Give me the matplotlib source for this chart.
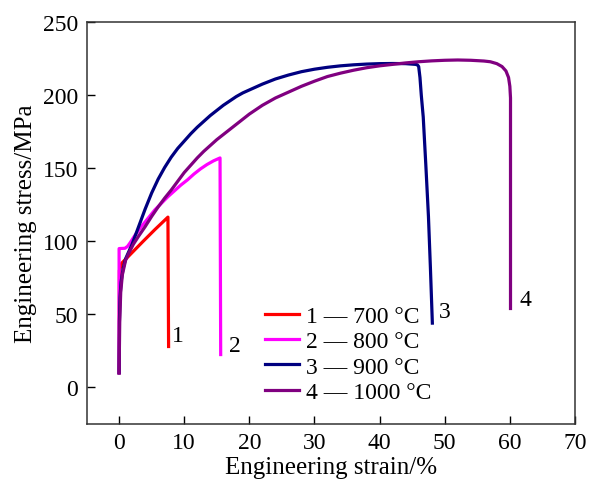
import matplotlib
matplotlib.use("Agg")
import matplotlib.pyplot as plt

plt.rcParams['font.family'] = ['Liberation Serif', 'DejaVu Serif']

# ---- data ----
x1 = [0.0, 0.05, 0.4, 1.5, 3.7, 5.5, 7.5, 7.6]
y1 = [10, 80, 85, 90, 100, 108, 116.5, 28]

x2 = [0.0, 0.0, 0.9, 1.3, 1.7, 2.5, 3.5, 4.5, 5.5, 6.5, 7.5, 8.5, 9.5, 10.5, 11.5, 12.5,
      13.5, 14.5, 15.5, 15.6]
y2 = [10, 95, 95.2, 96.5, 99, 104.5, 110.5, 116, 121.5, 126, 130.5, 134.5, 138.5, 142, 146, 149.5,
      152.5, 155, 157, 22.5]

x3 = [0.0, 0.05, 0.15, 0.3, 0.6, 1.0, 2.0, 3.0, 4.0, 5.0, 6.0, 7.0, 8.0, 9.0, 10, 11, 12, 13,
      14, 15, 16, 17, 18, 19, 20, 22, 24, 26, 28, 30, 32, 34, 36, 38, 40, 42, 44, 45.5, 45.8,
      46.0, 46.2, 46.4, 46.7, 47.1, 47.5, 47.8, 48.1]
y3 = [10, 45, 62, 72, 81, 88, 98, 110, 122, 133, 142.5, 150.5, 157.5, 163.5, 168.5, 173.5, 178, 182,
      186, 189.5, 193, 196, 199, 201.5, 203.5, 207.5, 211, 213.7, 216, 217.7, 219, 220, 220.7,
      221.2, 221.5, 221.6, 221.5, 221.0, 220.7, 219.5, 212, 200, 185, 152, 117, 82, 44]

x4 = [0.0, 0.1, 0.25, 0.5, 1.0, 1.5, 2.2, 3.0, 4.0, 5.0, 6.0, 7.0, 8.0, 9.0, 10, 11, 12, 13,
      14, 15, 16, 17, 18, 19, 20, 22, 24, 26, 28, 30, 32, 34, 36, 38, 40, 42, 44, 46, 48, 50,
      52, 54, 56, 57, 58, 58.8, 59.4, 59.8, 60.0, 60.1, 60.1, 60.1]
y4 = [10, 45, 65, 77, 87, 92, 98, 103.5, 110, 117, 123.5, 129.5, 135, 141, 147, 152, 157, 161.5,
      165.5, 169.5, 173, 176.5, 180, 183.5, 187, 193, 198, 202, 206, 209.5, 212.7, 215, 217, 218.7,
      220, 221, 222, 222.8, 223.4, 223.8, 224, 223.8, 223.3, 222.8, 221.5, 219.5, 216.5, 212, 206,
      198, 150, 54]

series_labels = ['1 — 700 °C', '2 — 800 °C', '3 — 900 °C', '4 — 1000 °C']
series_colors = ['#ff0000', '#ff00ff', '#000080', '#800080']
end_tags = ['1', '2', '3', '4']
tag_x = [9.1, 17.8, 50.0, 62.4]
tag_y = [35.7, 28.8, 52.0, 60.0]

xticks = [0, 10, 20, 30, 40, 50, 60, 70]
yticks = [0, 50, 100, 150, 200, 250]

fig = plt.figure(figsize=(5.91, 4.89), dpi=100)
ax = fig.add_axes([0.1464, 0.1309, 0.9729 - 0.1464, 0.953 - 0.1309])

for xs, ys, lab, col in zip([x1, x2, x3, x4], [y1, y2, y3, y4], series_labels, series_colors):
    ax.plot(xs, ys, color=col, lw=2.3, label=lab, solid_joinstyle='round')

for t, tx, ty in zip(end_tags, tag_x, tag_y):
    ax.text(tx, ty, t, fontsize=17, ha='center', va='center')

ax.set_xlim(-5, 70)
ax.set_ylim(-25, 250)
ax.set_xticks(xticks)
ax.set_yticks(yticks)
ax.tick_params(direction='in', length=6, width=1, labelsize=17, pad=6,
               top=False, right=False)
for s in ax.spines.values():
    s.set_linewidth(1.1)
    s.set_color('#333333')

ax.set_xlabel('Engineering strain/%', fontsize=18, labelpad=2)
ax.set_ylabel('Engineering stress/MPa', fontsize=18, labelpad=4)

ax.legend(loc='upper left', bbox_to_anchor=(0.331, 0.336), frameon=False,
          fontsize=17, handlelength=1.45, handletextpad=0.3, labelspacing=0.16,
          borderpad=0.2)

fig.savefig('out.png', dpi=100)
